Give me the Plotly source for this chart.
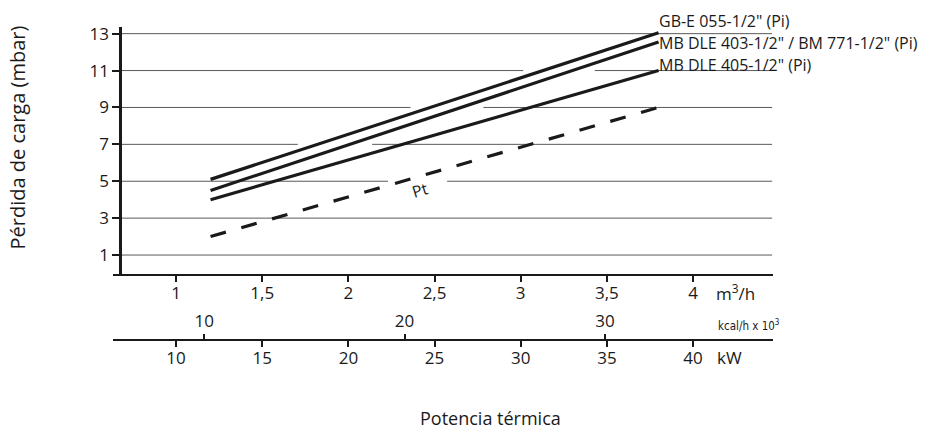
import numpy as np
import plotly.graph_objects as go

# Gas flow (m3/h) at the two ends of each curve
FLOW = [1.2, 3.8]
# Pressure drop (mbar)
GB_E_055 = [5.1, 13.05]
MB_DLE_403 = [4.5, 12.55]
MB_DLE_405 = [4.0, 11.0]
PT = [2.0, 9.0]

SERIES = [
    ('GB-E 055-1/2" (Pi)', GB_E_055, 12),
    ('MB DLE 403-1/2" / BM 771-1/2" (Pi)', MB_DLE_403, -1),
    ('MB DLE 405-1/2" (Pi)', MB_DLE_405, 6),
]

Y_TICKS = [1, 3, 5, 7, 9, 11, 13]
FLOW_TICKS = [1, 1.5, 2, 2.5, 3, 3.5, 4]
FLOW_TICK_TEXT = ["1", "1,5", "2", "2,5", "3", "3,5", "4"]
KW_TICKS = [10, 15, 20, 25, 30, 35, 40]
KCAL_TICKS = [10, 20, 30]

# Scale conversions for the secondary axes
KW_PER_M3H = 10.0
KW_PER_KCAL = 1.163  # kW per 10^3 kcal/h

# Axis ranges and placement
W, H = 942, 432
X_RANGE = [0.634, 4.464]
Y_RANGE = [-0.02, 13.375]
X_DOMAIN = [113 / W, 773 / W]
Y_DOMAIN = [160 / H, 410 / H]
Y_AXIS_AT = 0.675          # flow value where the pressure axis stands
ENERGY_AXIS_Y = (H - 339) / H

PT_LABEL = (2.416, 4.54)
PT_LABEL_GRID = 5

INK = "#1a1a1a"
GRID = "#5a5a5a"
FONT = "'Open Sans', Lato, sans-serif"
TICK_SIZE = 17


def crossing(xs, ys, level):
    if min(ys) < level < max(ys):
        return float(np.interp(level, ys, xs))
    return None


# Horizontal reference lines, interrupted where the upper curves cut them
gx, gy = [], []
for lv in Y_TICKS:
    breaks = []
    cuts = [crossing(FLOW, s, lv) for s in (GB_E_055, MB_DLE_403)]
    if all(c is not None for c in cuts):
        breaks.append((min(cuts) - 0.115, max(cuts) + 0.13))
    if lv == PT_LABEL_GRID:
        breaks.append((PT_LABEL[0] - 0.186, PT_LABEL[0] + 0.157))
    start = Y_AXIS_AT
    for b0, b1 in sorted(breaks):
        gx += [start, b0, None]
        gy += [lv, lv, None]
        start = b1
    gx += [start, X_RANGE[1] - 0.005, None]
    gy += [lv, lv, None]

fig = go.Figure()
fig.add_trace(go.Scatter(x=gx, y=gy, mode="lines", line=dict(color=GRID, width=1),
                         hoverinfo="skip", showlegend=False))

for name, vals, _ in SERIES:
    fig.add_trace(go.Scatter(x=FLOW, y=vals, mode="lines", name=name,
                             line=dict(color=INK, width=3.2), showlegend=False))

fig.add_trace(go.Scatter(x=FLOW, y=PT, mode="lines", name="Pt",
                         line=dict(color=INK, width=3.2, dash="16px,16px"),
                         showlegend=False))

# Carriers for the energy axes
fig.add_trace(go.Scatter(x=[None], y=[None], xaxis="x2", yaxis="y", showlegend=False, hoverinfo="skip"))
fig.add_trace(go.Scatter(x=[None], y=[None], xaxis="x3", yaxis="y", showlegend=False, hoverinfo="skip"))

y_axis_pos = X_DOMAIN[0] + (Y_AXIS_AT - X_RANGE[0]) / (X_RANGE[1] - X_RANGE[0]) * (X_DOMAIN[1] - X_DOMAIN[0])

common_x = dict(showgrid=False, zeroline=False, tickcolor=INK, tickwidth=1.5,
                tickfont=dict(size=TICK_SIZE, color=INK))

annotations = []
for name, vals, dy in SERIES:
    annotations.append(dict(x=FLOW[-1], y=vals[-1], xref="x", yref="y", text=name,
                            showarrow=False, xanchor="left", yanchor="middle", borderpad=0,
                            xshift=-1, yshift=dy, font=dict(size=16, color=INK)))

annotations += [
    dict(x=PT_LABEL[0], y=PT_LABEL[1], xref="x", yref="y", text="Pt", showarrow=False,
         xanchor="center", yanchor="middle", textangle=-17, font=dict(size=16, color=INK)),
    dict(x=714 / W, y=(H - 291) / H, xref="paper", yref="paper", text="m<sup>3</sup>/h",
         showarrow=False, xanchor="left", yanchor="middle", font=dict(size=17, color=INK)),
    dict(x=716 / W, y=(H - 324) / H, xref="paper", yref="paper", text="kcal/h x 10<sup>3</sup>",
         showarrow=False, xanchor="left", yanchor="middle",
         font=dict(size=11.5, color=INK, family="'Liberation Sans Narrow', 'DejaVu Sans Condensed', sans-serif")),
    dict(x=715 / W, y=(H - 357) / H, xref="paper", yref="paper", text="kW",
         showarrow=False, xanchor="left", yanchor="middle", font=dict(size=17, color=INK)),
    dict(x=17 / W, y=(H - 134) / H, xref="paper", yref="paper", text="Pérdida de carga (mbar)",
         showarrow=False, xanchor="center", yanchor="middle", textangle=-90,
         font=dict(size=20, color=INK)),
    dict(x=490 / W, y=(H - 418) / H, xref="paper", yref="paper", text="Potencia térmica",
         showarrow=False, xanchor="center", yanchor="middle", borderpad=0,
         font=dict(size=18, color=INK)),
]

fig.update_layout(
    width=W, height=H,
    margin=dict(l=0, r=0, t=0, b=0),
    paper_bgcolor="white", plot_bgcolor="white",
    font=dict(family=FONT, size=16, color=INK),
    showlegend=False,
    xaxis=dict(domain=X_DOMAIN, range=X_RANGE, anchor="y",
               tickvals=FLOW_TICKS, ticktext=FLOW_TICK_TEXT,
               ticks="outside", ticklen=6, showline=True, linecolor=INK, linewidth=2,
               ticklabelstandoff=-3, **common_x),
    xaxis2=dict(overlaying="x", anchor="free", position=ENERGY_AXIS_Y, side="bottom",
                range=[v * KW_PER_M3H for v in X_RANGE], tickvals=KW_TICKS,
                ticks="outside", ticklen=6, showline=True, linecolor=INK, linewidth=2,
                ticklabelstandoff=-3, **common_x),
    xaxis3=dict(overlaying="x", anchor="free", position=ENERGY_AXIS_Y, side="top",
                range=[v * KW_PER_M3H / KW_PER_KCAL for v in X_RANGE], tickvals=KCAL_TICKS,
                ticks="outside", ticklen=6, showline=False,
                **common_x),
    yaxis=dict(domain=Y_DOMAIN, range=Y_RANGE, anchor="free", position=y_axis_pos,
               tickvals=Y_TICKS, ticks="outside", ticklen=7, tickwidth=1.5, tickcolor=INK,
               showline=True, linecolor=INK, linewidth=2.6,
               showgrid=False, zeroline=False, tickfont=dict(size=TICK_SIZE, color=INK)),
    annotations=annotations,
)

fig.write_html("out.html")
